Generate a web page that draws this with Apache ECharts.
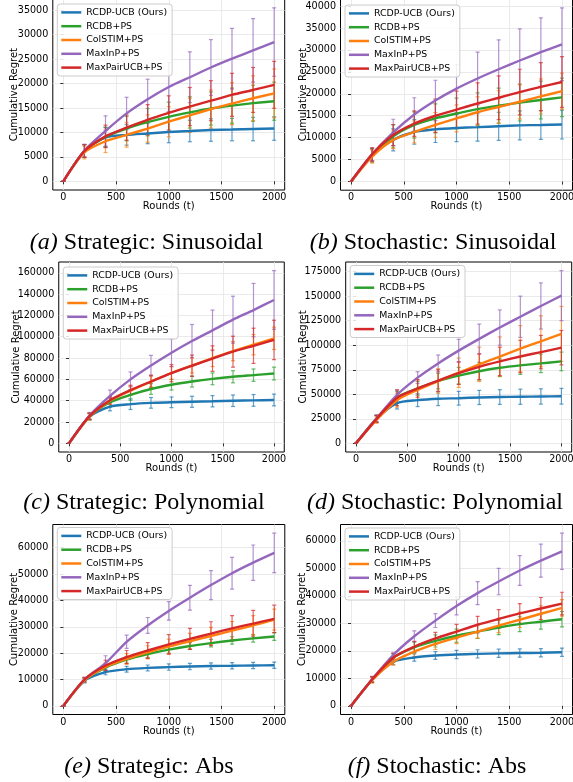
<!DOCTYPE html>
<html><head><meta charset="utf-8">
<script src="https://cdn.jsdelivr.net/npm/echarts@6/dist/echarts.min.js"></script>
<style>html,body{margin:0;padding:0;background:#fff}#c{width:573px;height:782px}</style>
</head><body><div id="c"></div>
<script>
// ---------------- DATA ----------------
const rounds = [0, 200, 400, 600, 800, 1000, 1200, 1400, 1600, 1800, 2000];
const methods = ['RCDP-UCB (Ours)', 'RCDB+PS', 'ColSTIM+PS', 'MaxInP+PS', 'MaxPairUCB+PS'];
const xTicks = [0, 500, 1000, 1500, 2000];
const captionTags = ['(a)', '(b)', '(c)', '(d)', '(e)', '(f)'];
const captionTexts = ['Strategic: Sinusoidal', 'Stochastic: Sinusoidal', 'Strategic: Polynomial',
  'Stochastic: Polynomial', 'Strategic: Abs', 'Stochastic: Abs'];
const xAxisName = 'Rounds (t)';
const yAxisName = 'Cumulative Regret';

const ticksA = [0, 5000, 10000, 15000, 20000, 25000, 30000, 35000];
const ticksB = [0, 5000, 10000, 15000, 20000, 25000, 30000, 35000, 40000];
const ticksC = [0, 20000, 40000, 60000, 80000, 100000, 120000, 140000, 160000];
const ticksD = [0, 25000, 50000, 75000, 100000, 125000, 150000, 175000];
const ticksE = [0, 10000, 20000, 30000, 40000, 50000, 60000];
const ticksF = [0, 10000, 20000, 30000, 40000, 50000, 60000];

// rows follow `methods` order
const meanA = [
  [0, 6200, 9000, 9500, 9800, 10100, 10300, 10500, 10600, 10700, 10800],
  [0, 6200, 9100, 10800, 12100, 13200, 14100, 14900, 15500, 16000, 16400],
  [0, 5900, 8200, 9500, 10800, 12200, 13500, 14800, 15900, 17000, 18000],
  [0, 6300, 10300, 13900, 16800, 19300, 21300, 23300, 25100, 26800, 28500],
  [0, 6200, 9200, 11000, 12600, 14000, 15300, 16500, 17700, 18700, 19750]];
const errA = [
  [0, 1300, 2000, 2100, 2100, 2200, 2200, 2300, 2300, 2400, 2400],
  [0, 1300, 2000, 2500, 2800, 3000, 3200, 3400, 3600, 3700, 3900],
  [0, 1300, 2300, 2500, 2800, 3100, 3500, 3900, 4300, 4600, 5000],
  [0, 1300, 3100, 3300, 4100, 5000, 5200, 5700, 6200, 6500, 7000],
  [0, 1300, 2300, 2600, 3100, 3500, 3900, 4100, 4400, 4600, 4800]];

const meanB = [
  [0, 6000, 9500, 11300, 11900, 12200, 12400, 12600, 12800, 12900, 13000],
  [0, 6000, 10300, 12900, 14400, 15500, 16500, 17300, 18000, 18600, 19200],
  [0, 5700, 9500, 11300, 12900, 14400, 15800, 17000, 18200, 19400, 20600],
  [0, 6200, 11200, 15300, 18500, 21200, 23500, 25600, 27600, 29500, 31300],
  [0, 6200, 10600, 13200, 15000, 16400, 17800, 19100, 20400, 21600, 22700]];
const errB = [
  [0, 1500, 2500, 2800, 3000, 3100, 3200, 3200, 3300, 3300, 3300],
  [0, 1500, 2600, 3000, 3300, 3500, 3700, 4000, 4200, 4300, 4400],
  [0, 1500, 2000, 2500, 2800, 3100, 3500, 3700, 3900, 4000, 4100],
  [0, 1500, 3000, 3800, 4600, 5500, 6000, 6700, 7200, 7800, 8300],
  [0, 1500, 2400, 2900, 3800, 4200, 4700, 5000, 5200, 5500, 5800]];

const meanC = [
  [0, 25000, 34500, 36800, 38000, 38500, 39000, 39500, 40000, 40300, 40700],
  [0, 25000, 38500, 45500, 51000, 55000, 58000, 60500, 62500, 64000, 65500],
  [0, 25000, 40000, 49500, 58000, 66000, 73000, 80000, 86500, 92500, 98500],
  [0, 26000, 44500, 60000, 73000, 85000, 96000, 106000, 116000, 125000, 134500],
  [0, 25500, 40500, 50000, 58000, 65800, 72800, 79500, 86000, 91500, 97000]];
const errC = [
  [0, 3000, 4000, 5000, 5000, 5000, 5200, 5300, 5400, 5500, 5500],
  [0, 3000, 4500, 5000, 5000, 5000, 5200, 5500, 5700, 5800, 6000],
  [0, 3000, 3500, 4000, 5000, 6000, 7000, 8000, 9000, 9500, 10500],
  [0, 3000, 5500, 7000, 9500, 13000, 15500, 19000, 22000, 25000, 27500],
  [0, 3000, 3500, 4500, 6000, 8000, 10000, 12000, 14500, 16500, 18500]];

const meanD = [
  [0, 25000, 41000, 44000, 45500, 46000, 46800, 47200, 47500, 47800, 48000],
  [0, 25000, 47000, 56000, 63500, 69000, 73500, 77000, 79500, 81500, 83500],
  [0, 24000, 44000, 54500, 63500, 72000, 80500, 88500, 96500, 104000, 111500],
  [0, 25500, 49500, 67000, 81500, 94500, 106500, 118000, 129000, 140000, 150500],
  [0, 25000, 46500, 56000, 64000, 71500, 78000, 83500, 88500, 93000, 97500]];
const errD = [
  [0, 3500, 6000, 6500, 7000, 7000, 7200, 7500, 7700, 7800, 8000],
  [0, 3500, 6000, 7000, 8000, 8500, 9000, 9000, 9200, 9400, 9500],
  [0, 3500, 7000, 10000, 12500, 15000, 17500, 20000, 23500, 26000, 28000],
  [0, 3500, 5000, 6000, 8500, 11500, 15000, 18000, 21000, 23500, 25500],
  [0, 3500, 8000, 9000, 11000, 11500, 13000, 14500, 16500, 17000, 17500]];

const meanE = [
  [0, 9500, 12800, 13900, 14400, 14700, 14900, 15100, 15200, 15300, 15400],
  [0, 9700, 14500, 17500, 19600, 21300, 22700, 23800, 24800, 25600, 26300],
  [0, 9700, 14800, 17800, 20300, 22500, 24500, 26500, 28500, 30500, 32700],
  [0, 10000, 16200, 24300, 30500, 36000, 41000, 45800, 50300, 54300, 58000],
  [0, 10000, 15300, 18500, 21000, 23300, 25400, 27400, 29400, 31200, 33000]];
const errE = [
  [0, 800, 1000, 1100, 1100, 1200, 1200, 1200, 1200, 1200, 1200],
  [0, 800, 1200, 1300, 1300, 1300, 1300, 1400, 1400, 1400, 1500],
  [0, 800, 1500, 2000, 2500, 2800, 3000, 3300, 3500, 3700, 4000],
  [0, 800, 2800, 2500, 3000, 3500, 4700, 5500, 6000, 6700, 7500],
  [0, 800, 2000, 2500, 3000, 3700, 4000, 4500, 4800, 5000, 5200]];

const meanF = [
  [0, 9500, 16000, 17600, 18300, 18700, 18900, 19100, 19200, 19300, 19500],
  [0, 9500, 17500, 21300, 23600, 25500, 27000, 28500, 29700, 30600, 31500],
  [0, 9300, 16000, 19700, 22500, 24800, 27000, 29200, 31300, 33500, 35600],
  [0, 9700, 18500, 25300, 31000, 36300, 41000, 45200, 49200, 52800, 56200],
  [0, 9600, 17500, 21500, 24500, 27000, 29500, 31600, 33600, 35400, 37200]];
const errF = [
  [0, 1000, 1000, 1300, 1400, 1500, 1500, 1500, 1500, 1500, 1500],
  [0, 1000, 1500, 2000, 2200, 2400, 2500, 2600, 2700, 2700, 2800],
  [0, 1000, 1200, 1800, 2000, 2200, 2400, 2600, 2800, 2900, 3000],
  [0, 1000, 1000, 2000, 2500, 3200, 4200, 4800, 5400, 6000, 6600],
  [0, 1000, 1500, 2000, 2200, 2600, 3000, 3400, 3600, 4000, 4100]];

// ---------------- STYLE / LAYOUT ----------------
const colors = ['#1f77b4', '#2ca02c', '#ff7f0e', '#9467bd', '#d62728'];
const panels = [
  { mean: meanA, err: errA, ticks: ticksA },
  { mean: meanB, err: errB, ticks: ticksB },
  { mean: meanC, err: errC, ticks: ticksC },
  { mean: meanD, err: errD, ticks: ticksD },
  { mean: meanE, err: errE, ticks: ticksE },
  { mean: meanF, err: errF, ticks: ticksF }];
const layout = [
  { left: 52.8, top: -0.8, width: 231.9, height: 190.8, yGap: 33.3, capX: 146.5, capY: 243, lgTop: 4 },
  { left: 340.5, top: -0.8, width: 232, height: 191, yGap: 32.5, capX: 433, capY: 243, lgTop: 5 },
  { left: 58.75, top: 262, width: 225.5, height: 190, yGap: 37.7, capX: 144, capY: 503, lgTop: 267 },
  { left: 345.7, top: 262, width: 226, height: 190, yGap: 37.7, capX: 435, capY: 503, lgTop: 265.5 },
  { left: 52.8, top: 524.5, width: 232, height: 190, yGap: 33.5, capX: 149, capY: 767, lgTop: 527.5 },
  { left: 340.5, top: 524.5, width: 232, height: 190, yGap: 32.8, capX: 437, capY: 767, lgTop: 528 }];

function rgba(hex, a) {
  const n = parseInt(hex.slice(1), 16);
  return 'rgba(' + ((n >> 16) & 255) + ',' + ((n >> 8) & 255) + ',' + (n & 255) + ',' + a + ')';
}
function makeErr(color) {
  const st = { stroke: rgba(color, 0.7), lineWidth: 1.2, fill: null };
  return function (params, api) {
    const x = api.value(0);
    const a = api.coord([x, api.value(1)]);
    const b = api.coord([x, api.value(2)]);
    const w = 2;
    return { type: 'group', children: [
      { type: 'line', shape: { x1: a[0], y1: a[1], x2: b[0], y2: b[1] }, style: st },
      { type: 'line', shape: { x1: a[0] - w, y1: a[1], x2: a[0] + w, y2: a[1] }, style: st },
      { type: 'line', shape: { x1: b[0] - w, y1: b[1], x2: b[0] + w, y2: b[1] }, style: st }] };
  };
}

const FONT = 'DejaVu Sans';
const grids = [], xAxes = [], yAxes = [], series = [], legends = [], graphics = [];
panels.forEach((p, k) => {
  const L = layout[k];
  grids.push({ left: L.left, top: L.top, width: L.width, height: L.height, show: true,
    borderColor: '#000', borderWidth: 1, backgroundColor: 'transparent',
    containLabel: false, outerBoundsMode: 'none' });
  let M = 0;
  p.mean.forEach((row, i) => row.forEach((v, j) => { M = Math.max(M, v + p.err[i][j]); }));
  const axisCommon = {
    type: 'value', gridIndex: k, nameLocation: 'middle', nameMoveOverlap: false,
    nameTextStyle: { fontSize: 10, color: '#000', fontFamily: FONT },
    axisLine: { show: false },
    splitLine: { show: true, lineStyle: { color: '#e4e4e4', width: 0.8 } }
  };
  xAxes.push(Object.assign({}, axisCommon, {
    min: -100, max: 2100, name: xAxisName, nameGap: 11.5,
    axisTick: { show: true, length: 3, customValues: xTicks, lineStyle: { color: '#000', width: 0.8 } },
    axisLabel: { customValues: xTicks, fontSize: 9.6, color: '#000', margin: 2.5, fontFamily: FONT,
      formatter: v => String(v) }
  }));
  yAxes.push(Object.assign({}, axisCommon, {
    min: -0.05 * M, max: 1.05 * M, name: yAxisName, nameGap: L.yGap,
    axisTick: { show: true, length: 3, customValues: p.ticks, lineStyle: { color: '#000', width: 0.8 } },
    axisLabel: { customValues: p.ticks, fontSize: 9.6, color: '#000', margin: 4.5, fontFamily: FONT,
      formatter: v => String(v) }
  }));
  p.mean.forEach((row, i) => {
    series.push({ type: 'custom', xAxisIndex: k, yAxisIndex: k, z: 2, silent: true, clip: true,
      encode: { x: 0, y: [1, 2] },
      data: rounds.map((r, j) => [r, row[j] - p.err[i][j], row[j] + p.err[i][j]]),
      renderItem: makeErr(colors[i]) });
  });
  p.mean.forEach((row, i) => {
    series.push({ type: 'line', name: methods[i], xAxisIndex: k, yAxisIndex: k, z: 3 + i,
      data: rounds.map((r, j) => [r, row[j]]), showSymbol: false, symbol: 'none',
      smooth: 0.25, silent: true,
      lineStyle: { width: 2.4, color: colors[i] }, itemStyle: { color: colors[i] },
      emphasis: { disabled: true } });
  });
  legends.push({ left: L.left + 4.5, top: L.lgTop, orient: 'vertical', data: methods.slice(),
    icon: 'rect', itemWidth: 20, itemHeight: 2.5, itemGap: 0, itemTextGap: 7,
    padding: [1.5, 5, 1.5, 4], backgroundColor: 'rgba(255,255,255,0.85)',
    borderColor: '#cccccc', borderWidth: 1, borderRadius: 3, selectedMode: false, z: 20,
    textStyle: { fontSize: 9.4, lineHeight: 13.8, color: '#000', fontFamily: FONT } });
  graphics.push({ type: 'text', x: L.capX, y: L.capY, z: 30,
    style: { text: '{i|' + captionTags[k] + '} ' + captionTexts[k], align: 'center', verticalAlign: 'middle',
      fontSize: 24, fontFamily: 'Liberation Serif', fill: '#000',
      rich: { i: { fontStyle: 'italic', fontSize: 24, fontFamily: 'Liberation Serif', fill: '#000', color: '#000' } } } });
});

const chart = echarts.init(document.getElementById('c'), null, { renderer: 'canvas' });
chart.setOption({
  animation: false,
  backgroundColor: '#fff',
  textStyle: { fontFamily: FONT },
  grid: grids, xAxis: xAxes, yAxis: yAxes, legend: legends, series: series, graphic: graphics
});
</script></body></html>
